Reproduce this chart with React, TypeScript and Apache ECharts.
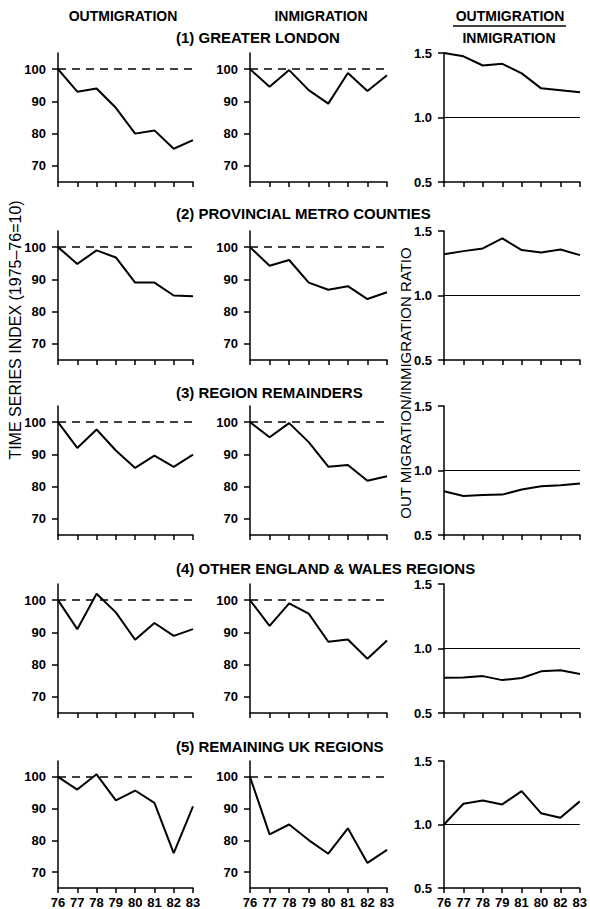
import React, { useEffect, useRef } from "react";
import * as echarts from "echarts";

const YEARS = ["76", "77", "78", "79", "80", "81", "82", "83"];
const RATIO_YEARS = ["76", "77", "78", "79", "81", "80", "82", "83"];
const INDEX_TICKS = [70, 80, 90, 100];
const RATIO_TICKS = [0.5, 1.0, 1.5];

const ROW_TITLES = [
  "(1) GREATER LONDON",
  "(2) PROVINCIAL METRO COUNTIES",
  "(3) REGION REMAINDERS",
  "(4) OTHER ENGLAND & WALES REGIONS",
  "(5) REMAINING UK REGIONS",
];

const LONDON_OUT = [100, 93, 94, 88, 80, 81, 75.3, 78];
const LONDON_IN = [100, 94.5, 99.7, 93.5, 89.3, 98.8, 93.2, 98.1];
const LONDON_RATIO = [1.5, 1.474, 1.403, 1.416, 1.342, 1.226, 1.211, 1.195];

const METRO_OUT = [100, 94.8, 99, 96.8, 89, 89, 85, 84.8];
const METRO_IN = [100, 94.2, 96, 89, 86.8, 87.9, 83.9, 86];
const METRO_RATIO = [1.32, 1.344, 1.365, 1.443, 1.352, 1.334, 1.357, 1.313];

const REMAINDER_OUT = [100, 92, 97.7, 91.2, 85.8, 89.6, 86.1, 89.9];
const REMAINDER_IN = [100, 95.3, 99.7, 93.8, 86.2, 86.7, 81.8, 83.2];
const REMAINDER_RATIO = [0.839, 0.803, 0.811, 0.813, 0.852, 0.878, 0.886, 0.899];

const OTHER_OUT = [100, 91, 102, 96.2, 87.7, 92.9, 88.9, 91];
const OTHER_IN = [100, 92, 99, 95.8, 87.1, 87.8, 81.8, 87.5];
const OTHER_RATIO = [0.773, 0.776, 0.786, 0.755, 0.771, 0.823, 0.831, 0.802];

const UK_OUT = [100, 96, 100.8, 92.6, 95.7, 91.8, 76, 90.7];
const UK_IN = [100, 81.9, 85, 80.1, 75.8, 83.8, 72.9, 77];
const UK_RATIO = [1.0, 1.163, 1.189, 1.158, 1.263, 1.089, 1.053, 1.182];

const OUT_ROWS = [LONDON_OUT, METRO_OUT, REMAINDER_OUT, OTHER_OUT, UK_OUT];
const IN_ROWS = [LONDON_IN, METRO_IN, REMAINDER_IN, OTHER_IN, UK_IN];
const RATIO_ROWS = [LONDON_RATIO, METRO_RATIO, REMAINDER_RATIO, OTHER_RATIO, UK_RATIO];

const FONT = "'Liberation Sans', Arial, Helvetica, sans-serif";
const ROW_TOPS = [53, 231, 406, 584, 761];
const ROW_TITLE_Y = [37, 213, 392, 568, 746];
const GRID_H = 129;
const COLS = [
  { left: 58, width: 135 },
  { left: 250, width: 137 },
  { left: 444, width: 136 },
];

export default function App() {
  const ref = useRef<HTMLDivElement>(null);

  useEffect(() => {
    if (!ref.current) return;
    const chart = echarts.init(ref.current, null, { renderer: "svg" });

    const grids: any[] = [];
    const xAxes: any[] = [];
    const yAxes: any[] = [];
    const series: any[] = [];

    for (let r = 0; r < 5; r++) {
      for (let c = 0; c < 3; c++) {
        const idx = grids.length;
        grids.push({
          left: COLS[c].left,
          top: ROW_TOPS[r],
          width: COLS[c].width,
          height: GRID_H,
        });
        const isRatio = c === 2;
        xAxes.push({
          type: "category",
          gridIndex: idx,
          data: isRatio ? RATIO_YEARS : YEARS,
          boundaryGap: false,
          axisLine: { onZero: false, lineStyle: { color: "#000", width: 1.5 } },
          axisTick: { show: true, length: 5, inside: false, lineStyle: { color: "#000", width: 1.5 } },
          axisLabel: {
            show: r === 4,
            interval: 0,
            color: "#000",
            fontFamily: FONT,
            fontSize: 13,
            fontWeight: "bold",
            margin: 8,
          },
          splitLine: { show: false },
        });
        yAxes.push({
          type: "value",
          gridIndex: idx,
          min: isRatio ? 0.5 : 65,
          max: isRatio ? 1.5 : 105,
          axisLine: { show: true, onZero: false, lineStyle: { color: "#000", width: 1.5 } },
          axisTick: {
            show: true,
            length: 6,
            customValues: isRatio ? RATIO_TICKS : INDEX_TICKS,
            lineStyle: { color: "#000", width: 1.5 },
          },
          axisLabel: {
            show: true,
            customValues: isRatio ? RATIO_TICKS : INDEX_TICKS,
            formatter: (v: number) => (isRatio ? v.toFixed(1) : String(v)),
            color: "#000",
            fontFamily: FONT,
            fontSize: 13,
            fontWeight: "bold",
            margin: 12,
          },
          splitLine: { show: false },
        });
        const data = c === 0 ? OUT_ROWS[r] : c === 1 ? IN_ROWS[r] : RATIO_ROWS[r];
        series.push({
          type: "line",
          xAxisIndex: idx,
          yAxisIndex: idx,
          data,
          symbol: "none",
          lineStyle: { color: "#000", width: 2 },
          markLine: {
            silent: true,
            symbol: "none",
            label: { show: false },
            lineStyle: isRatio
              ? { color: "#000", width: 1.2, type: "solid" }
              : { color: "#000", width: 1.5, type: [8, 6] },
            data: [{ yAxis: isRatio ? 1.0 : 100 }],
          },
        });
      }
    }

    const headerStyle = {
      fill: "#000",
      font: `bold 14px ${FONT}`,
      textAlign: "center",
      textVerticalAlign: "middle",
    };

    const graphics: any[] = [
      { type: "text", x: 123, y: 16, style: { ...headerStyle, text: "OUTMIGRATION" } },
      { type: "text", x: 321, y: 16, style: { ...headerStyle, text: "INMIGRATION" } },
      { type: "text", x: 510, y: 16, style: { ...headerStyle, text: "OUTMIGRATION" } },
      {
        type: "line",
        shape: { x1: 453, y1: 26, x2: 566, y2: 26 },
        style: { stroke: "#000", lineWidth: 1.5 },
      },
      { type: "text", x: 509, y: 38, style: { ...headerStyle, text: "INMIGRATION" } },
      {
        type: "text",
        x: 15,
        y: 330,
        rotation: Math.PI / 2,
        style: {
          fill: "#000",
          font: `16px ${FONT}`,
          text: "TIME SERIES INDEX (1975\u201376=10)",
          textAlign: "center",
          textVerticalAlign: "middle",
        },
      },
      {
        type: "text",
        x: 405,
        y: 383,
        rotation: Math.PI / 2,
        style: {
          fill: "#000",
          font: `15px ${FONT}`,
          text: "OUT MIGRATION/INMIGRATION RATIO",
          textAlign: "center",
          textVerticalAlign: "middle",
        },
      },
    ];
    ROW_TITLES.forEach((t, i) => {
      graphics.push({
        type: "text",
        x: 176,
        y: ROW_TITLE_Y[i],
        style: {
          fill: "#000",
          font: `bold 15px ${FONT}`,
          text: t,
          textAlign: "left",
          textVerticalAlign: "middle",
        },
      });
    });

    chart.setOption({
      animation: false,
      backgroundColor: "#fff",
      grid: grids,
      xAxis: xAxes,
      yAxis: yAxes,
      series,
      graphic: graphics,
    });

    return () => chart.dispose();
  }, []);

  return (
    <div
      ref={ref}
      style={{ position: "fixed", left: 0, top: 0, width: 590, height: 909 }}
    />
  );
}
